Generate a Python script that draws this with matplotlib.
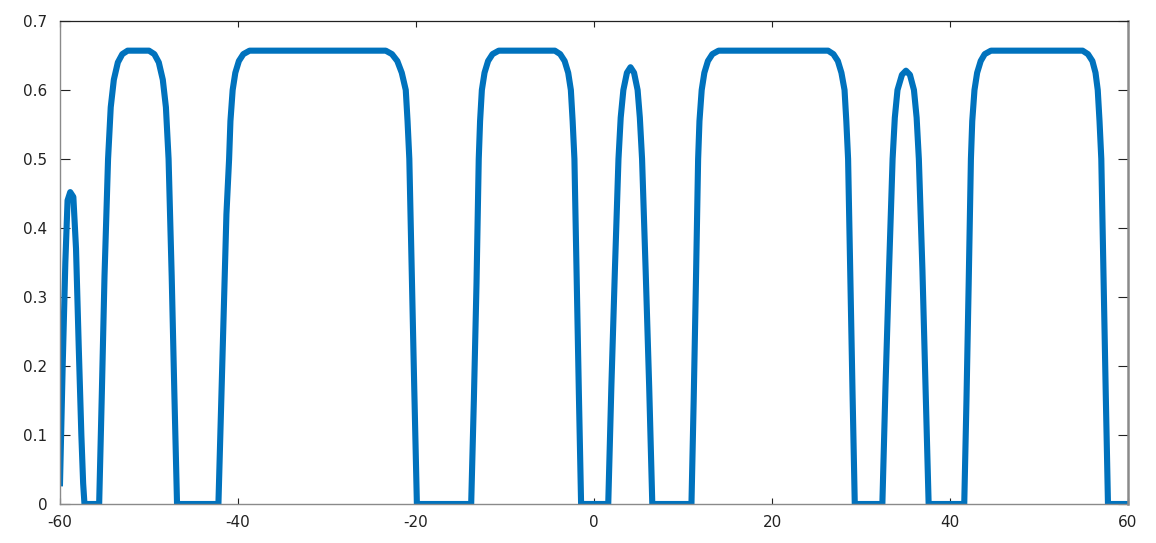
import matplotlib
matplotlib.use("Agg")
import matplotlib.pyplot as plt

plt.rcParams['axes.unicode_minus'] = False
plt.rcParams['font.family'] = ['DejaVu Sans']

# curve samples (x, y)
x_vals = [
    -60.0, -59.7, -59.4, -59.15, -58.85, -58.5, -58.2, -57.9, -57.6, -57.4, -57.25,
    -55.6, -55.3, -55.0, -54.6, -54.3, -53.95, -53.5, -53.0, -52.4,
    -50.0, -49.4, -48.9, -48.45, -48.1, -47.8, -47.45, -47.15, -46.85,
    -42.2, -41.9, -41.6, -41.3, -41.0, -40.85, -40.6, -40.3, -39.9, -39.4, -38.7,
    -23.4, -22.7, -22.1, -21.6, -21.15, -20.95, -20.75, -20.5, -20.2, -19.9,
    -13.8, -13.5, -13.2, -12.95, -12.8, -12.6, -12.3, -11.9, -11.4, -10.7,
    -4.4, -3.8, -3.3, -2.9, -2.6, -2.4, -2.2, -1.95, -1.7, -1.45,
    1.6, 1.95, 2.35, 2.75, 3.0, 3.3, 3.7, 4.1, 4.5, 4.9, 5.15, 5.4, 5.8, 6.2, 6.55,
    10.95, 11.2, 11.45, 11.7, 11.85, 12.1, 12.4, 12.8, 13.3, 14.0,
    26.3, 26.9, 27.4, 27.8, 28.15, 28.35, 28.55, 28.8, 29.05, 29.3,
    32.4, 32.75, 33.15, 33.55, 33.8, 34.1, 34.6, 35.05, 35.5, 35.95, 36.25, 36.5, 36.9, 37.25, 37.6,
    41.6, 41.85, 42.1, 42.35, 42.5, 42.75, 43.05, 43.45, 43.9, 44.6,
    54.9, 55.5, 56.0, 56.35, 56.6, 56.8, 57.0, 57.25, 57.5, 57.75,
    60.0,
]
y_vals = [
    0.03, 0.20, 0.35, 0.44, 0.452, 0.445, 0.37, 0.23, 0.10, 0.03, 0.0,
    0.0, 0.16, 0.33, 0.5, 0.575, 0.615, 0.64, 0.652, 0.657,
    0.657, 0.652, 0.64, 0.615, 0.575, 0.5, 0.33, 0.16, 0.0,
    0.0, 0.14, 0.28, 0.42, 0.5, 0.555, 0.6, 0.625, 0.642, 0.652, 0.657,
    0.657, 0.652, 0.642, 0.625, 0.6, 0.555, 0.5, 0.35, 0.17, 0.0,
    0.0, 0.15, 0.32, 0.5, 0.555, 0.6, 0.625, 0.642, 0.652, 0.657,
    0.657, 0.652, 0.642, 0.625, 0.6, 0.555, 0.5, 0.33, 0.16, 0.0,
    0.0, 0.17, 0.34, 0.5, 0.56, 0.6, 0.625, 0.633, 0.625, 0.6, 0.56, 0.5, 0.34, 0.17, 0.0,
    0.0, 0.15, 0.32, 0.5, 0.555, 0.6, 0.625, 0.642, 0.652, 0.657,
    0.657, 0.652, 0.642, 0.625, 0.6, 0.555, 0.5, 0.33, 0.16, 0.0,
    0.0, 0.17, 0.34, 0.5, 0.56, 0.6, 0.622, 0.628, 0.622, 0.6, 0.56, 0.5, 0.34, 0.17, 0.0,
    0.0, 0.15, 0.32, 0.5, 0.555, 0.6, 0.625, 0.642, 0.652, 0.657,
    0.657, 0.652, 0.642, 0.625, 0.6, 0.555, 0.5, 0.33, 0.16, 0.0,
    0.0,
]

x_ticks = [-60, -40, -20, 0, 20, 40, 60]
x_tick_labels = ['-60', '-40', '-20', '0', '20', '40', '60']
y_ticks = [0, 0.1, 0.2, 0.3, 0.4, 0.5, 0.6, 0.7]
y_tick_labels = ['0', '0.1', '0.2', '0.3', '0.4', '0.5', '0.6', '0.7']

fig = plt.figure(figsize=(11.56, 5.43), dpi=100)
ax = fig.add_axes([60 / 1156, 1 - 504 / 543, (1128 - 60) / 1156, (504 - 21) / 543])

ax.plot(x_vals, y_vals, color='#0072BD', linewidth=4.4, solid_joinstyle='round')

ax.set_xlim(-60, 60)
ax.set_ylim(0, 0.7)
ax.set_xticks(x_ticks)
ax.set_xticklabels(x_tick_labels)
ax.set_yticks(y_ticks)
ax.set_yticklabels(y_tick_labels)

ax.tick_params(axis='both', direction='in', top=True, right=True,
               labelsize=11, colors='#222222')
ax.tick_params(axis='x', length=4.5, pad=8)
ax.tick_params(axis='y', length=7, pad=9)

for side in ['left', 'bottom', 'right']:
    ax.spines[side].set_color('#8a8a8a')
    ax.spines[side].set_linewidth(1.0)
ax.spines['right'].set_linewidth(1.8)
ax.spines['top'].set_color('#222222')
ax.spines['top'].set_linewidth(0.9)

fig.savefig('out.png', dpi=100)
